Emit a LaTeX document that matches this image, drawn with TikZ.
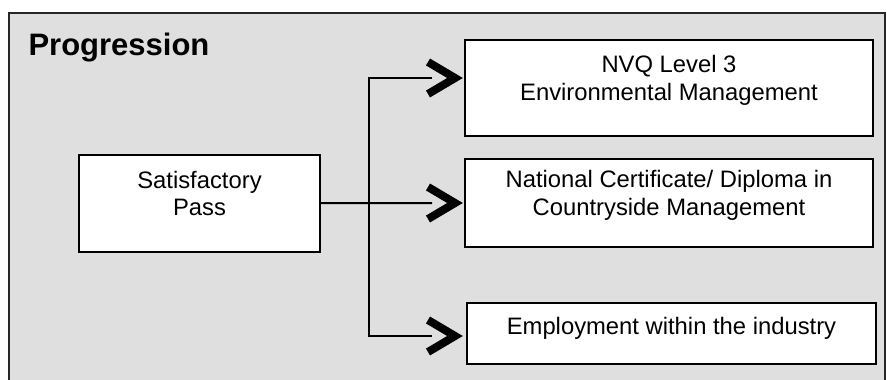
\documentclass[tikz,border=0pt]{standalone}
\usepackage{fontspec}
\setmainfont{Liberation Sans}
\usetikzlibrary{positioning}
\definecolor{panel}{HTML}{DFDFDF}

\begin{document}
\begin{tikzpicture}[x=1pt,y=-1pt,
  every node/.style={font=\fontsize{23.8}{27.5}\selectfont,align=center},
  box/.style={draw,line width=2.2pt,fill=white,text depth=20pt},
  link/.style={line width=2pt},
  chev/.style={line width=8pt}]
\useasboundingbox (0,0) rectangle (887,380);
\fill[panel] (9,13) rectangle (885,380);
\draw[line width=2.5pt,draw=black!85] (9,380) |- (885,13) -- (885,380);
\node[anchor=base west,font=\fontsize{31}{36}\selectfont\bfseries] (title) at (25,55) {Progression};
\node[box,minimum width=241pt,minimum height=97pt] (pass) at (199.5,203.5) {Satisfactory\\Pass};
\node[box,minimum width=408pt,minimum height=96pt] (nvq)  at (669,88)  {NVQ Level 3\\Environmental Management};
\node[box,minimum width=408pt,minimum height=88pt] (ncd)  at (669,203) {National Certificate/ Diploma in\\Countryside Management};
\node[box,minimum width=409pt,minimum height=61pt,text depth=16pt] (job) at (671.5,333.5) {Employment within the industry};
\coordinate (hub) at (369,203);
\coordinate (s1) at (432,78);
\coordinate (s2) at (432,203);
\coordinate (s3) at (432,336);
\coordinate (t1) at (455,78);
\coordinate (t2) at (455,203);
\coordinate (t3) at (455,336);
\draw[link] (pass) -- (s2);
\draw[link] (s1) -| (hub) |- (s3);
\foreach \t in {t1,t2,t3}
  \draw[chev] (\t) ++(-27,-16) -- (\t) -- ++(-27,16);
\end{tikzpicture}
\end{document}
